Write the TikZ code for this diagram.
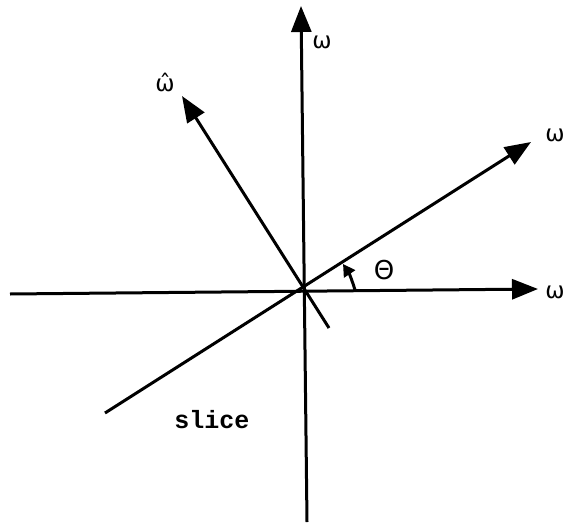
\documentclass[tikz,border=0pt]{standalone}
\usepackage{fontspec}
\setmainfont{DejaVu Sans}
\newfontfamily\typefont{Liberation Mono}
\usetikzlibrary{arrows.meta}
\tikzset{
  axis/.style={line width=3pt, -{Triangle[length=26pt,width=20pt]}},
  lbl/.style={inner sep=0pt, font=\fontsize{23}{23}\selectfont},
  anglearrow/.style={line width=3pt, -{Triangle[length=12pt,width=13pt]}},
}
\begin{document}
\begin{tikzpicture}[x=1pt,y=-1pt]
\useasboundingbox (0,0) rectangle (567,524);
% named points
\coordinate (O) at (304,290);
\coordinate (hl) at (10,294);
\coordinate (hr) at (538,289);
\coordinate (vb) at (307,522);
\coordinate (vt) at (301,6);
\coordinate (sl) at (105,413);
\coordinate (st) at (531,142);
\coordinate (wb) at (329,328);
\coordinate (wt) at (182,96);
% axes
\draw[axis] (hl) -- (hr);
\draw[axis] (vb) -- (vt);
\draw[axis] (sl) -- (st);
\draw[axis] (wb) -- (wt);
% angle arrow
\coordinate (a0) at (355,290);
\coordinate (a1) at (343,264);
\draw[anglearrow] (a0) .. controls (352,280) and (349,273) .. (a1);
% labels
\node[lbl] (lw1) at (322,42) {ω};
\node[lbl] (lw2) at (555,135) {ω};
\node[lbl] (lw3) at (555,292) {ω};
\node[lbl] (lwh) at (165,82) {\^{ω}};
\node[lbl, font=\fontsize{26}{26}\selectfont] (lth) at (384,270) {Θ};
\node[inner sep=0pt, font=\typefont\bfseries\fontsize{25}{25}\selectfont] (lslice) at (212,420) {slice};
\end{tikzpicture}
\end{document}
